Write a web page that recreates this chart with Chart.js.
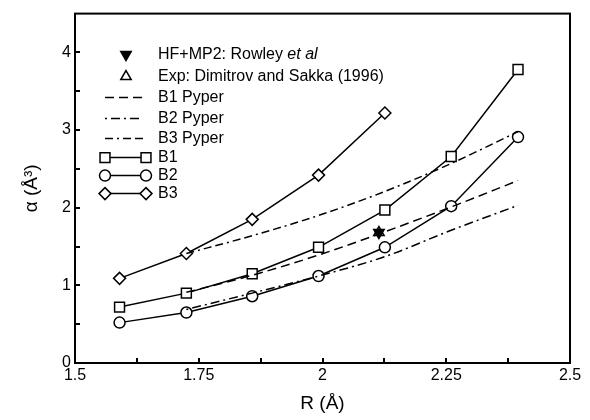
<!DOCTYPE html>
<html>
<head>
<meta charset="utf-8">
<script src="https://cdn.jsdelivr.net/npm/chart.js@4.4.1/dist/chart.umd.min.js"></script>
<style>
    html, body { margin: 0; padding: 0; background: #fff; }
</style>
</head>
<body>
<canvas id="alphaChart" width="590" height="420"></canvas>
<script>
// bond lengths (Å) and polarisabilities (Å^3)
var rBasis = [1.59, 1.725, 1.858, 1.992, 2.126, 2.26, 2.395];
var rB3 = [1.59, 1.725, 1.858, 1.992, 2.126];
var rPyper = [1.725, 1.858, 1.992, 2.126, 2.26, 2.395];

var alphaB1 = [0.72, 0.90, 1.15, 1.49, 1.97, 2.66, 3.78];
var alphaB2 = [0.52, 0.65, 0.86, 1.12, 1.49, 2.02, 2.91];
var alphaB3 = [1.09, 1.41, 1.85, 2.42, 3.22];

var alphaB1Pyper = [0.91, 1.13, 1.39, 1.69, 2.01, 2.35];
var alphaB2Pyper = [0.69, 0.90, 1.12, 1.37, 1.71, 2.03];
var alphaB3Pyper = [1.41, 1.64, 1.90, 2.21, 2.57, 2.98];

var rRowley = [2.114];
var alphaRowley = [1.68];
var rExp = [2.114];
var alphaExp = [1.68];

var xTicks = [1.5, 1.75, 2, 2.25, 2.5];
var xTickLabels = ['1.5', '1.75', '2', '2.25', '2.5'];
var yTicks = [0, 1, 2, 3, 4];
var yTickLabels = ['0', '1', '2', '3', '4'];

var FONT = "'Liberation Sans', Arial, Helvetica, sans-serif";

function pts(xs, ys) {
    return xs.map((x, i) => ({ x: x, y: ys[i] }));
}

var datasets = [
    {
        label: 'HF+MP2: Rowley et al',
        data: pts(rRowley, alphaRowley),
        showLine: false,
        pointStyle: 'triangle',
        rotation: 180,
        radius: 6,
        backgroundColor: '#000',
        borderColor: '#000',
        borderWidth: 1.5
    },
    {
        label: 'Exp: Dimitrov and Sakka (1996)',
        data: pts(rExp, alphaExp),
        showLine: false,
        pointStyle: 'triangle',
        radius: 6,
        backgroundColor: 'rgba(0,0,0,0)',
        borderColor: '#000',
        borderWidth: 1.5
    },
    {
        label: 'B1 Pyper',
        data: pts(rPyper, alphaB1Pyper),
        showLine: true,
        borderDash: [9, 5],
        cubicInterpolationMode: 'monotone',
        pointRadius: 0,
        borderColor: '#000',
        borderWidth: 1.5
    },
    {
        label: 'B2 Pyper',
        data: pts(rPyper, alphaB2Pyper),
        showLine: true,
        borderDash: [2, 4, 9, 4],
        cubicInterpolationMode: 'monotone',
        pointRadius: 0,
        borderColor: '#000',
        borderWidth: 1.5
    },
    {
        label: 'B3 Pyper',
        data: pts(rPyper, alphaB3Pyper),
        showLine: true,
        borderDash: [8, 4, 2, 4, 8, 4],
        cubicInterpolationMode: 'monotone',
        pointRadius: 0,
        borderColor: '#000',
        borderWidth: 1.5
    },
    {
        label: 'B1',
        data: pts(rBasis, alphaB1),
        showLine: true,
        pointStyle: 'rect',
        pointRadius: 7,
        pointBackgroundColor: '#fff',
        pointBorderColor: '#000',
        pointBorderWidth: 1.5,
        borderColor: '#000',
        borderWidth: 1.5
    },
    {
        label: 'B2',
        data: pts(rBasis, alphaB2),
        showLine: true,
        pointStyle: 'circle',
        pointRadius: 5.5,
        pointBackgroundColor: '#fff',
        pointBorderColor: '#000',
        pointBorderWidth: 1.5,
        borderColor: '#000',
        borderWidth: 1.5
    },
    {
        label: 'B3',
        data: pts(rB3, alphaB3),
        showLine: true,
        pointStyle: 'rectRot',
        pointRadius: 6,
        pointBackgroundColor: '#fff',
        pointBorderColor: '#000',
        pointBorderWidth: 1.5,
        borderColor: '#000',
        borderWidth: 1.5
    }
];

// frame + inward ticks, like the original plotting program
var framePlugin = {
    id: 'frame',
    afterDraw(chart) {
        const ctx = chart.ctx;
        const a = chart.chartArea;
        const xs = chart.scales.x;
        const ys = chart.scales.y;
        ctx.save();
        ctx.strokeStyle = '#000';
        ctx.lineWidth = 2;
        for (let k = 1; k < 8; k++) {
            const px = Math.round(xs.getPixelForValue(1.5 + k * 0.125));
            ctx.beginPath();
            ctx.moveTo(px, a.bottom);
            ctx.lineTo(px, a.bottom - 5);
            ctx.stroke();
        }
        for (let k = 1; k < 9; k++) {
            const py = Math.round(ys.getPixelForValue(k * 0.5));
            ctx.beginPath();
            ctx.moveTo(a.left, py);
            ctx.lineTo(a.left + 5, py);
            ctx.stroke();
        }
        ctx.strokeRect(a.left, a.top, a.right - a.left, a.bottom - a.top);
        ctx.restore();
    }
};

// legend inside the axes, drawn from the dataset styles
var legendPlugin = {
    id: 'insideLegend',
    afterDraw(chart) {
        const ctx = chart.ctx;
        const a = chart.chartArea;
        const rows = [41, 63, 84, 105, 125, 144, 162, 180];
        const textX = a.left + 83;
        ctx.save();
        ctx.font = '16px ' + FONT;
        ctx.textBaseline = 'middle';
        ctx.fillStyle = '#000';
        chart.data.datasets.forEach((ds, i) => {
            const y = a.top + rows[i];
            ctx.strokeStyle = '#000';
            ctx.lineWidth = 1.5;
            if (i < 2) {
                ctx.fillStyle = ds.backgroundColor;
                Chart.helpers.drawPoint(ctx, {
                    pointStyle: ds.pointStyle, radius: ds.radius,
                    rotation: ds.rotation || 0, borderWidth: 1.5
                }, a.left + 51, y);
            } else if (i < 5) {
                ctx.setLineDash(ds.borderDash);
                ctx.beginPath();
                ctx.moveTo(a.left + 30, y);
                ctx.lineTo(a.left + 68, y);
                ctx.stroke();
                ctx.setLineDash([]);
            } else {
                ctx.beginPath();
                ctx.moveTo(a.left + 30, y);
                ctx.lineTo(a.left + 71, y);
                ctx.stroke();
                ctx.fillStyle = '#fff';
                [a.left + 30, a.left + 71].forEach((mx) => {
                    Chart.helpers.drawPoint(ctx, {
                        pointStyle: ds.pointStyle, radius: ds.pointRadius,
                        rotation: 0, borderWidth: 1.5
                    }, mx, y);
                });
            }
            ctx.fillStyle = '#000';
            if (i === 0) {
                const first = 'HF+MP2: Rowley ';
                ctx.font = '16px ' + FONT;
                ctx.fillText(first, textX, y);
                const w = ctx.measureText(first).width;
                ctx.font = 'italic 16px ' + FONT;
                ctx.fillText('et al', textX + w, y);
                ctx.font = '16px ' + FONT;
            } else {
                ctx.fillText(ds.label, textX, y);
            }
        });
        ctx.restore();
    }
};

new Chart(document.getElementById('alphaChart'), {
    type: 'scatter',
    data: { datasets: datasets },
    options: {
        responsive: false,
        animation: false,
        devicePixelRatio: 1,
        layout: { padding: { left: 18, right: 20, top: 12, bottom: 5 } },
        plugins: {
            legend: { display: false },
            tooltip: { enabled: false }
        },
        scales: {
            x: {
                type: 'linear',
                min: 1.5,
                max: 2.5,
                grid: { display: false, drawTicks: false },
                border: { display: false },
                afterFit: (scale) => { scale.height = 52; },
                afterBuildTicks: (scale) => {
                    scale.ticks = xTicks.map((v) => ({ value: v }));
                },
                ticks: {
                    padding: 3,
                    color: '#000',
                    font: { family: FONT, size: 16 },
                    callback: (v) => xTickLabels[xTicks.indexOf(v)] ?? ''
                },
                title: {
                    display: true,
                    text: 'R (Å)',
                    color: '#000',
                    padding: { top: 0, bottom: 0 },
                    font: { family: FONT, size: 19 }
                }
            },
            y: {
                type: 'linear',
                min: 0,
                max: 4.5,
                grid: { display: false, drawTicks: false },
                border: { display: false },
                afterFit: (scale) => { scale.width = 57; },
                afterBuildTicks: (scale) => {
                    scale.ticks = yTicks.map((v) => ({ value: v }));
                },
                ticks: {
                    padding: 4,
                    color: '#000',
                    font: { family: FONT, size: 16 },
                    callback: (v) => yTickLabels[yTicks.indexOf(v)] ?? ''
                },
                title: {
                    display: true,
                    text: 'α (Å³)',
                    color: '#000',
                    padding: { top: 2, bottom: 0 },
                    font: { family: FONT, size: 19 }
                }
            }
        }
    },
    plugins: [framePlugin, legendPlugin]
});
</script>
</body>
</html>
